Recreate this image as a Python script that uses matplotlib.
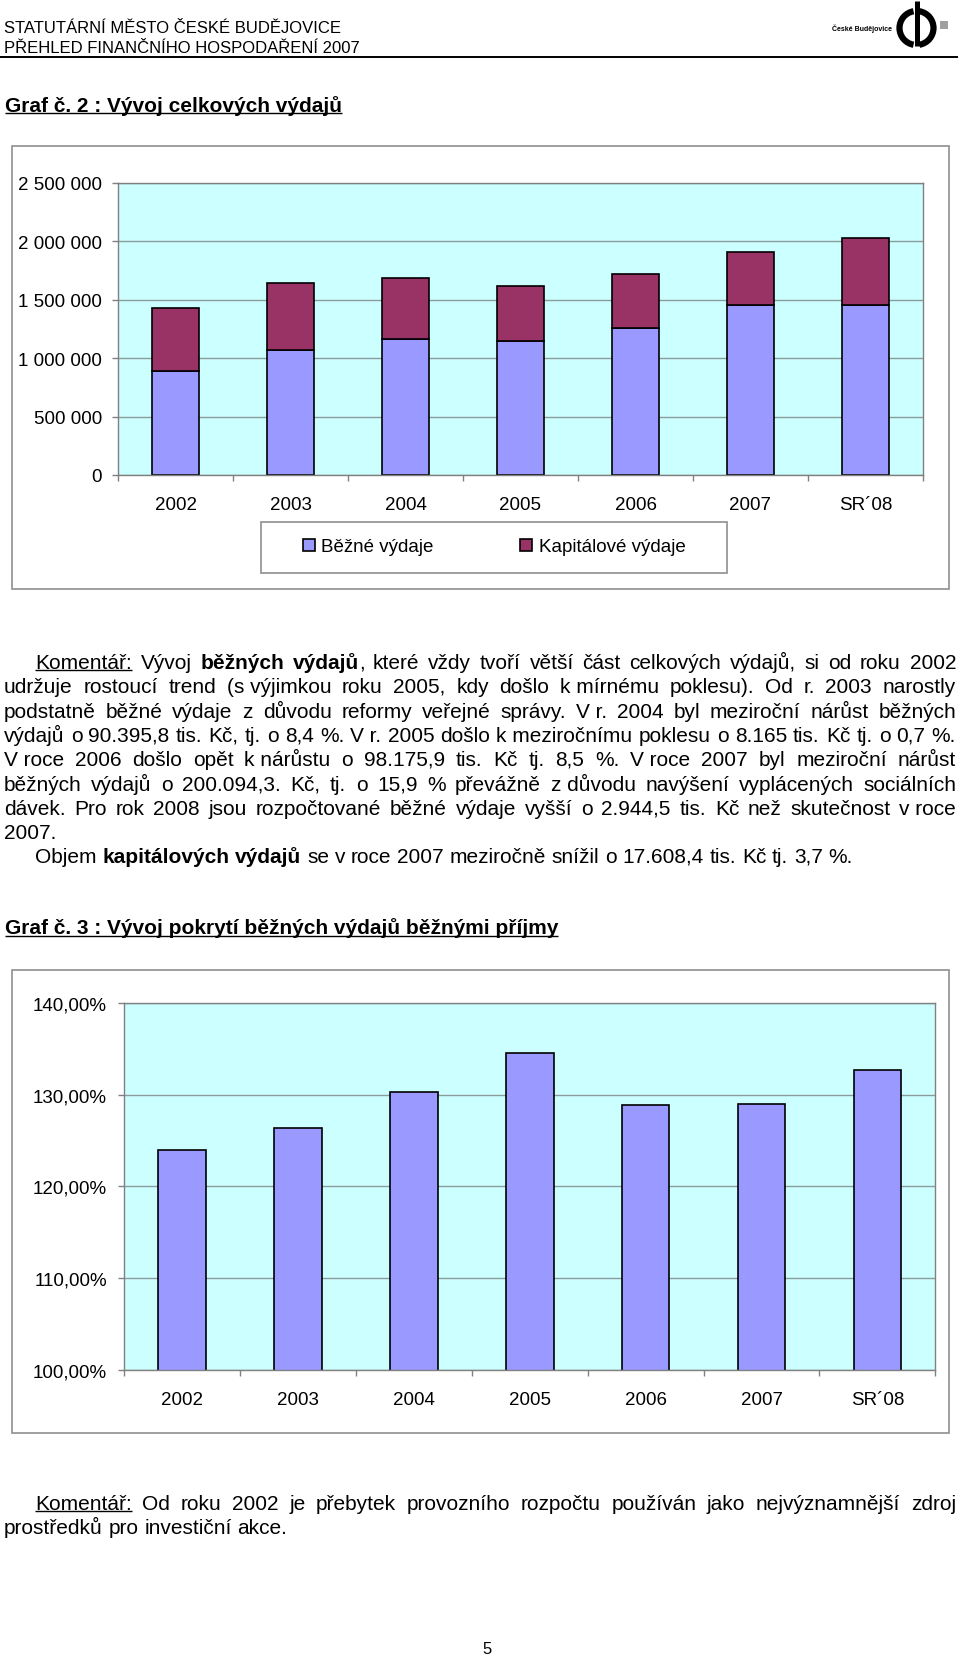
import math
import matplotlib
matplotlib.use("Agg")
import numpy as np
import matplotlib.pyplot as plt
from matplotlib.patches import Rectangle, Arc
from matplotlib.ticker import FuncFormatter, MultipleLocator

plt.rcParams['font.family'] = ['Liberation Sans', 'DejaVu Sans']

# --- data ---
roky = ["2002", "2003", "2004", "2005", "2006", "2007", "SR\u00b408"]
bezne_vydaje = [892000, 1070000, 1167000, 1150000, 1259000, 1453000, 1455000]
kapitalove_vydaje = [535000, 575000, 521000, 469000, 466000, 452000, 573000]
pokryti = [124.0, 126.4, 130.3, 134.5, 128.9, 129.0, 132.7]

# text of the page, one list per printed line (runs of (text, style))
NB = "\u00a0"
komentar1 = [
    [("Komentář:", "u"), (" Vývoj ", ""), ("běžných výdajů", "b"),
     (", které vždy tvoří větší část celkových výdajů, si od roku 2002", "")],
    [("udržuje rostoucí trend (s" + NB + "výjimkou roku 2005, kdy došlo k" + NB + "mírnému poklesu). Od r. 2003 narostly", "")],
    [("podstatně běžné výdaje z důvodu reformy veřejné správy. V" + NB + "r. 2004 byl meziroční nárůst běžných", "")],
    [("výdajů o 90.395,8 tis. Kč, tj. o 8,4 %. V" + NB + "r. 2005 došlo k" + NB + "meziročnímu poklesu o 8.165 tis. Kč tj. o 0,7 %.", "")],
    [("V" + NB + "roce 2006 došlo opět k" + NB + "nárůstu o 98.175,9 tis. Kč tj. 8,5 %. V" + NB + "roce 2007 byl meziroční nárůst", "")],
    [("běžných výdajů o 200.094,3. Kč, tj. o 15,9 % převážně z" + NB + "důvodu navýšení vyplácených sociálních", "")],
    [("dávek. Pro rok 2008 jsou rozpočtované běžné výdaje vyšší o 2.944,5 tis. Kč než skutečnost v" + NB + "roce", "")],
    [("2007.", "")],
    [("Objem ", ""), ("kapitálových výdajů", "b"),
     (" se v roce 2007 meziročně snížil o 17.608,4 tis. Kč tj. 3,7 %.", "")],
]
# (indent, justified) for every line above
komentar1_fmt = [(True, True)] + [(False, True)] * 6 + [(False, False), (True, False)]

komentar2 = [
    [("Komentář:", "u"), (" Od roku 2002 je přebytek provozního rozpočtu používán jako nejvýznamnější zdroj", "")],
    [("prostředků pro investiční akce.", "")],
]
komentar2_fmt = [(True, True), (False, False)]

W, H = 960, 1658
BODY = 15
TICK = 13.5
CYAN = '#ccffff'
MODRA = '#9999ff'
VINOVA = '#993366'
GRID = '#8c9c9c'
AXIS = '#808080'
FRAME = '#8f8f8f'

fig = plt.figure(figsize=(W / 100, H / 100), dpi=100)
page = fig.add_axes([0, 0, 1, 1])
page.set_xlim(0, W)
page.set_ylim(H, 0)
page.set_autoscale_on(False)
page.axis('off')
renderer = fig.canvas.get_renderer()


def text_w(t):
    return t.get_window_extent(renderer).width


def put(x, y, s, size=BODY, weight='normal', underline=False):
    t = page.text(x, y, s, fontsize=size, fontweight=weight, va='baseline', ha='left')
    w = text_w(t)
    if underline:
        page.plot([x, x + w], [y + 2.6, y + 2.6], color='black', lw=1.0, solid_capstyle='butt')
    return w


def words_of(runs):
    words = [[]]
    for txt, st in runs:
        for i, part in enumerate(txt.split(' ')):
            if i:
                words.append([])
            if part:
                words[-1].append((part, st))
    return [w for w in words if w]


probe_a = page.text(0, -100, "x x", fontsize=BODY)
probe_b = page.text(0, -100, "xx", fontsize=BODY)
SPACE = text_w(probe_a) - text_w(probe_b)
probe_a.remove()
probe_b.remove()


def draw_line(runs, y, x0, x1, justify):
    words = words_of(runs)
    items, widths = [], []
    for word in words:
        frag, ww = [], 0
        for part, st in word:
            t = page.text(0, y, part, fontsize=BODY,
                          fontweight='bold' if 'b' in st else 'normal', va='baseline')
            fw = text_w(t)
            frag.append((t, fw, st))
            ww += fw
        items.append(frag)
        widths.append(ww)
    gap = SPACE
    if justify and len(words) > 1:
        gap = (x1 - x0 - sum(widths)) / (len(words) - 1)
    x = x0
    for frag, ww in zip(items, widths):
        for t, fw, st in frag:
            t.set_x(x)
            if 'u' in st:
                page.plot([x, x + fw], [y + 2.6, y + 2.6], color='black', lw=1.0, solid_capstyle='butt')
            x += fw
        x += gap


def paragraph(lines, fmt, y0, step=24.3):
    for i, (runs, (indent, just)) in enumerate(zip(lines, fmt)):
        # keep every baseline on the same sub-pixel phase so words don't jitter
        y = math.floor(y0 + i * step) + 0.75
        draw_line(runs, y, 35 if indent else 4, 956, just)


# --- header ---
put(4, 32.7, "STATUTÁRNÍ MĚSTO ČESKÉ BUDĚJOVICE", 12)
put(4, 53.3, "PŘEHLED FINANČNÍHO HOSPODAŘENÍ 2007", 12)
page.plot([0, 957], [57.5, 57.5], color='black', lw=1.4)
page.text(892, 29, "České Budějovice", fontsize=5.0, fontweight='bold', ha='right', va='center')
page.add_patch(Arc((916.5, 29), 34, 34, theta1=100, theta2=260, lw=4.5, color='black'))
page.add_patch(Arc((916.5, 29), 34, 34, theta1=-80, theta2=80, lw=4.5, color='black'))
page.plot([916.5, 916.5], [2, 47], color='black', lw=3.6, solid_capstyle='butt')
page.add_patch(Rectangle((940, 22), 8, 8, color='#a0a0a0', lw=0))

put(5, 111.5, "Graf č. 2 : Vývoj celkových výdajů", BODY, 'bold', True)


def px_axes(x0, y0, x1, y1):
    return fig.add_axes([x0 / W, 1 - y1 / H, (x1 - x0) / W, (y1 - y0) / H])


def style_axes(ax, ypad):
    ax.set_facecolor(CYAN)
    for s in ax.spines.values():
        s.set_color(AXIS)
        s.set_linewidth(1.0)
    ax.set_axisbelow(True)
    ax.yaxis.grid(True, color=GRID, lw=1.0)
    n = len(roky)
    ax.set_xlim(-0.5, n - 0.5)
    ax.set_xticks(range(n))
    ax.set_xticklabels(roky)
    ax.set_xticks(np.arange(n + 1) - 0.5, minor=True)
    ax.tick_params(axis='x', which='major', length=0, labelsize=TICK, pad=15)
    ax.tick_params(axis='x', which='minor', length=4.3, color=AXIS, width=1.0)
    ax.tick_params(axis='y', which='major', length=4.3, color=AXIS, width=1.0, labelsize=TICK, pad=ypad)


# --- chart 1 ---
page.add_patch(Rectangle((12, 147), 937, 443, fill=False, ec=FRAME, lw=1.2))
ax1 = px_axes(118, 184, 923, 476)
x = np.arange(len(roky))
b1 = ax1.bar(x, bezne_vydaje, width=0.41, color=MODRA, edgecolor='black', lw=1.2)
b2 = ax1.bar(x, kapitalove_vydaje, width=0.41, bottom=bezne_vydaje, color=VINOVA,
             edgecolor='black', lw=1.2)
ax1.set_ylim(0, 2500000)
ax1.yaxis.set_major_locator(MultipleLocator(500000))
ax1.yaxis.set_major_formatter(FuncFormatter(lambda v, p: f"{v:,.0f}".replace(",", " ")))
style_axes(ax1, 7.4)

page.add_patch(Rectangle((261, 523), 466, 51, fill=False, ec=FRAME, lw=1.2))
ax1.legend([b1, b2], ["Běžné výdaje", "Kapitálové výdaje"], loc='center',
           bbox_to_anchor=(494 / W, 1 - 548 / H), bbox_transform=fig.transFigure,
           ncol=2, frameon=False, fontsize=TICK, handlelength=0.65, handleheight=0.65,
           handletextpad=0.35, columnspacing=4.6)

# --- comment 1 ---
paragraph(komentar1, komentar1_fmt, 668.5)

put(5, 934, "Graf č. 3 : Vývoj pokrytí běžných výdajů běžnými příjmy", BODY, 'bold', True)

# --- chart 2 ---
page.add_patch(Rectangle((12, 971), 937, 463, fill=False, ec=FRAME, lw=1.2))
ax2 = px_axes(124.3, 1004, 935.3, 1370.7)
ax2.bar(x, pokryti, width=0.41, color=MODRA, edgecolor='black', lw=1.2)
ax2.set_ylim(100, 140)
ax2.yaxis.set_major_locator(MultipleLocator(10))
ax2.yaxis.set_major_formatter(FuncFormatter(lambda v, p: f"{v:.2f}".replace(".", ",") + "%"))
style_axes(ax2, 8.1)

# --- comment 2 ---
paragraph(komentar2, komentar2_fmt, 1509)

page.text(487, 1654, "5", fontsize=12, ha='center', va='baseline')

fig.savefig("out.png", dpi=100)
